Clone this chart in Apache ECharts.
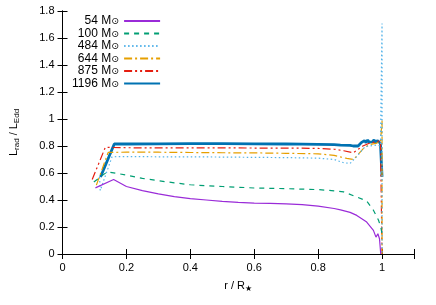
<!DOCTYPE html>
<html><head><meta charset="utf-8">
<script src="https://cdn.jsdelivr.net/npm/echarts@6/dist/echarts.min.js"></script>
<style>html,body{margin:0;padding:0;background:#fff}#c{width:436px;height:305px}</style>
</head><body><div id="c"></div>
<script>
const masses = ['54', '100', '484', '644', '875', '1196'];
const r54 = [0.103, 0.16, 0.2, 0.25, 0.3, 0.35, 0.4, 0.45, 0.5, 0.55, 0.6, 0.65, 0.7, 0.75, 0.8, 0.85, 0.87, 0.9, 0.921, 0.952, 0.973, 0.981, 0.987, 0.992, 0.996];
const L54 = [0.49, 0.552, 0.50, 0.47, 0.446, 0.425, 0.41, 0.40, 0.39, 0.383, 0.377, 0.375, 0.372, 0.366, 0.355, 0.337, 0.327, 0.308, 0.286, 0.237, 0.175, 0.125, 0.15, 0.113, 0];
const r100 = [0.098, 0.14, 0.2, 0.25, 0.3, 0.35, 0.4, 0.45, 0.5, 0.6, 0.7, 0.8, 0.85, 0.88, 0.92, 0.952, 0.973, 0.989, 0.996, 1.0];
const L100 = [0.534, 0.609, 0.585, 0.56, 0.543, 0.527, 0.513, 0.505, 0.50, 0.489, 0.484, 0.477, 0.468, 0.46, 0.423, 0.393, 0.324, 0.25, 0.2, 0.15];
const r484 = [0.116, 0.118, 0.155, 0.2, 0.3, 0.4, 0.5, 0.6, 0.7, 0.8, 0.85, 0.88, 0.9, 0.92, 0.947, 0.983, 0.995, 1.0, 1.0];
const L484 = [0.57, 0.47, 0.72, 0.722, 0.72, 0.72, 0.718, 0.716, 0.714, 0.71, 0.70, 0.676, 0.671, 0.72, 0.795, 0.807, 0.80, 1.707, 0];
const r644 = [0.106, 0.143, 0.2, 0.3, 0.4, 0.5, 0.6, 0.7, 0.8, 0.85, 0.89, 0.911, 0.942, 0.96, 0.98, 0.995, 1.0, 1.0];
const L644 = [0.51, 0.753, 0.754, 0.754, 0.752, 0.75, 0.749, 0.746, 0.742, 0.73, 0.708, 0.70, 0.783, 0.81, 0.82, 0.83, 0.99, 0];
const r875 = [0.093, 0.134, 0.2, 0.3, 0.4, 0.5, 0.6, 0.7, 0.8, 0.85, 0.88, 0.91, 0.94, 0.96, 0.98, 0.995, 1.0, 1.0];
const L875 = [0.552, 0.79, 0.787, 0.786, 0.786, 0.786, 0.785, 0.785, 0.782, 0.776, 0.765, 0.75, 0.80, 0.82, 0.83, 0.84, 0.85, 0];
const r1196 = [0.119, 0.162, 0.2, 0.3, 0.4, 0.5, 0.6, 0.7, 0.8, 0.85, 0.87, 0.9, 0.91, 0.925, 0.935, 0.94, 0.945, 0.95, 0.955, 0.96, 0.965, 0.97, 0.975, 0.98, 0.985, 0.99, 0.995, 1.0];
const L1196 = [0.571, 0.815, 0.815, 0.816, 0.817, 0.817, 0.816, 0.815, 0.812, 0.81, 0.807, 0.805, 0.80, 0.80, 0.825, 0.812, 0.84, 0.825, 0.845, 0.828, 0.842, 0.83, 0.845, 0.825, 0.84, 0.828, 0.82, 0.571];
const xTicks = [0, 0.2, 0.4, 0.6, 0.8, 1];
const yTicks = [0, 0.2, 0.4, 0.6, 0.8, 1, 1.2, 1.4, 1.6, 1.8];

const rs = [r54, r100, r484, r644, r875, r1196];
const Ls = [L54, L100, L484, L644, L875, L1196];
const colors = ['#9a2bd8', '#009e73', '#56b4e9', '#e69f00', '#e51e10', '#0072b2'];
const dashes = ['solid', [5, 5], [1.5, 2.5], [8, 3, 2, 3], [8, 3, 2, 3, 2, 3], 'solid'];
const widths = [1.2, 1.2, 1.2, 1.2, 1.2, 2.8];
const font = 'Liberation Sans, Arial, sans-serif';

const series = masses.map((m, i) => ({
  name: m,
  type: 'line',
  showSymbol: false,
  symbol: 'none',
  animation: false,
  data: rs[i].map((x, j) => [x, Ls[i][j]]),
  lineStyle: {color: colors[i], width: widths[i], type: dashes[i]},
  itemStyle: {color: colors[i]},
  z: 10 - i
}));

const axCommon = {
  type: 'value',
  axisLine: {show: true, lineStyle: {color: '#000', width: 1}},
  axisTick: {show: true, inside: true, length: 5, lineStyle: {color: '#000'}},
  splitLine: {show: false},
};

const chart = echarts.init(document.getElementById('c'), null, {renderer: 'canvas'});
chart.setOption({
  animation: false,
  grid: {left: 60, right: 22, top: 11, bottom: 51, containLabel: false},
  legend: {
    orient: 'vertical',
    left: 72, top: 15,
    align: 'right',
    padding: 0,
    itemGap: 0.5,
    itemWidth: 36, itemHeight: 8,
    data: masses,
    itemStyle: {color: 'rgba(0,0,0,0)', borderWidth: 0, opacity: 0},
    formatter: n => '{a|' + n + ' M}{s|⊙}',
    textStyle: {
      color: '#000', fontFamily: font, fontSize: 12,
      rich: {
        a: {fontSize: 12, fontFamily: font, color: '#000', lineHeight: 12},
        s: {fontSize: 9.5, fontFamily: 'DejaVu Sans', color: '#000', lineHeight: 6, verticalAlign: 'bottom'}
      }
    }
  },
  xAxis: [
    Object.assign({}, axCommon, {
      min: 0, max: 1.1, interval: 0.2,
      axisLabel: {color: '#000', fontFamily: font, fontSize: 11, margin: 8,
        formatter: v => xTicks.indexOf(+v.toFixed(2)) >= 0 ? String(+v.toFixed(2)) : ''},
      name: '{a|r / R}{s|★}',
      nameLocation: 'middle', nameGap: 25,
      nameTextStyle: {rich: {
        a: {fontSize: 11, fontFamily: font, color: '#000', lineHeight: 14},
        s: {fontSize: 8, fontFamily: 'DejaVu Sans', color: '#000', lineHeight: 8, verticalAlign: 'bottom'}
      }}
    }),
    Object.assign({}, axCommon, {position: 'top', min: 0, max: 1.1, interval: 0.2, axisLabel: {show: false}})
  ],
  yAxis: [
    Object.assign({}, axCommon, {
      min: 0, max: 1.8, interval: 0.2,
      axisLabel: {color: '#000', fontFamily: font, fontSize: 11, margin: 8,
        formatter: v => String(+v.toFixed(1))},
      name: '{a|L}{s|rad}{a| / L}{s|Edd}',
      nameLocation: 'middle', nameGap: 42, nameRotate: 90,
      nameTextStyle: {rich: {
        a: {fontSize: 11, fontFamily: font, color: '#000', lineHeight: 14},
        s: {fontSize: 8, fontFamily: font, color: '#000', lineHeight: 8, verticalAlign: 'bottom'}
      }}
    }),
    Object.assign({}, axCommon, {position: 'right', min: 0, max: 1.8, interval: 0.2, axisLabel: {show: false}})
  ],
  series: series
});
</script></body></html>
